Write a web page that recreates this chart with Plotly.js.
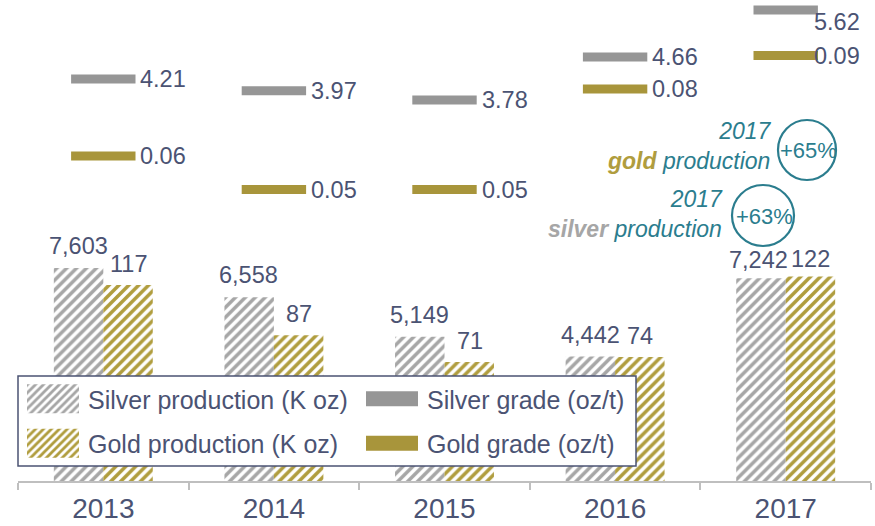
<!DOCTYPE html>
<html><head><meta charset="utf-8">
<script src="https://cdn.plot.ly/plotly-3.0.1.min.js"></script>
<style>html,body{margin:0;padding:0;background:#fff}#chart{width:875px;height:526px}</style>
</head><body><div id="chart"></div>
<script>
const years = ['2013', '2014', '2015', '2016', '2017'];
const silverProduction = [7603, 6558, 5149, 4442, 7242];
const goldProduction = [117, 87, 71, 74, 122];
const silverGrade = [4.21, 3.97, 3.78, 4.66, 5.62];
const goldGrade = [0.06, 0.05, 0.05, 0.08, 0.09];
const seriesNames = ['Silver production (K oz)', 'Gold production (K oz)', 'Silver grade (oz/t)', 'Gold grade (oz/t)'];

const TXT = '#4b5373';
const TEAL = '#2b7d8e';
const SILVER = '#a6a6a6';
const GOLD = '#b09d3e';
const SILVER_G = '#969696';
const GOLD_G = '#a8953b';
const FONT = "'Liberation Sans', Arial, sans-serif";

const L = 18, T = 0, W = 853, H = 481;
const px = v => (v - L) / W;
const py = v => (T + H - v) / H;

const traces = [
  {type: 'bar', x: years, y: silverProduction, yaxis: 'y', name: seriesNames[0],
   width: 0.29, offset: -0.29, legend: 'legend', legendgroup: 'a',
   marker: {color: 'white', line: {width: 0},
            pattern: {shape: '/', fgcolor: SILVER, bgcolor: 'white', size: 7, solidity: 0.5}},
   hoverinfo: 'x+y'},
  {type: 'bar', x: years, y: goldProduction, yaxis: 'y2', name: seriesNames[1],
   width: 0.29, offset: 0, legend: 'legend', legendgroup: 'b',
   marker: {color: 'white', line: {width: 0},
            pattern: {shape: '/', fgcolor: GOLD, bgcolor: 'white', size: 7, solidity: 0.5}},
   hoverinfo: 'x+y'},
  {type: 'scatter', mode: 'markers', x: years, y: silverGrade, yaxis: 'y3', name: seriesNames[2],
   legend: 'legend2', legendgroup: 'c',
   marker: {symbol: 'line-ew', size: 46, line: {width: 9, color: SILVER_G}}},
  {type: 'scatter', mode: 'markers', x: years, y: goldGrade, yaxis: 'y4', name: seriesNames[3],
   legend: 'legend2', legendgroup: 'd',
   marker: {symbol: 'line-ew', size: 46, line: {width: 9, color: GOLD_G}}}
];

const annotations = [];
const last = years.length - 1;
const LBL = {size: 23.5, color: TXT};
years.forEach((yr, i) => {
  annotations.push({x: i, y: silverProduction[i], xref: 'x', yref: 'y', text: silverProduction[i].toLocaleString('en-US'),
    showarrow: false, xshift: i === last ? -27 : -25, yshift: i === last ? 18 : 22, yanchor: 'middle', font: LBL});
  annotations.push({x: i, y: goldProduction[i], xref: 'x', yref: 'y2', text: String(goldProduction[i]),
    showarrow: false, xshift: 25, yshift: i === last ? 18 : 21, yanchor: 'middle', font: LBL});
  annotations.push({x: i, y: silverGrade[i], xref: 'x', yref: 'y3', text: silverGrade[i].toFixed(2),
    showarrow: false, xanchor: 'left', yanchor: 'middle', xshift: i === last ? 26 : 35, yshift: i === last ? -12 : 0,
    font: LBL});
  annotations.push({x: i, y: goldGrade[i], xref: 'x', yref: 'y4', text: goldGrade[i].toFixed(2),
    showarrow: false, xanchor: 'left', yanchor: 'middle', xshift: i === last ? 26 : 35,
    font: LBL});
});

const calloutFont = {size: 23, color: TEAL, style: 'italic'};
annotations.push(
  {xref: 'paper', yref: 'paper', x: px(774), y: py(146), xanchor: 'right', yanchor: 'middle', align: 'right', showarrow: false,
   text: years[last] + "<br><span style='color:" + GOLD + "'><b>gold</b></span> production", font: calloutFont},
  {xref: 'paper', yref: 'paper', x: px(808), y: py(151), xanchor: 'center', yanchor: 'middle', showarrow: false,
   text: '+65%', font: {size: 22, color: TEAL}},
  {xref: 'paper', yref: 'paper', x: px(725), y: py(214), xanchor: 'right', yanchor: 'middle', align: 'right', showarrow: false,
   text: years[last] + "<br><span style='color:" + SILVER + "'><b>silver</b></span> production", font: calloutFont},
  {xref: 'paper', yref: 'paper', x: px(764), y: py(216), xanchor: 'center', yanchor: 'middle', showarrow: false,
   text: '+63%', font: {size: 22, color: TEAL}}
);

const shapes = [
  {type: 'circle', xref: 'paper', yref: 'paper', x0: px(778), x1: px(836), y0: py(180), y1: py(120),
   line: {color: TEAL, width: 2.2}},
  {type: 'circle', xref: 'paper', yref: 'paper', x0: px(732), x1: px(794), y0: py(246), y1: py(185),
   line: {color: TEAL, width: 2.2}},
  {type: 'rect', xref: 'paper', yref: 'paper', x0: px(18), x1: px(636), y0: py(466), y1: py(376),
   fillcolor: 'white', line: {color: TXT, width: 1.5}, layer: 'above'}
];

const legendCommon = {orientation: 'v', bgcolor: 'rgba(0,0,0,0)', borderwidth: 0, itemwidth: 60,
  tracegroupgap: 9, font: {size: 25, color: TXT, family: FONT}, yanchor: 'top', xanchor: 'left', itemclick: false};

const layout = {
  width: 875, height: 526,
  margin: {l: L, r: 875 - L - W, t: T, b: 526 - T - H, pad: 0},
  paper_bgcolor: 'white', plot_bgcolor: 'white',
  font: {family: FONT, color: TXT},
  showlegend: true,
  barmode: 'overlay',
  xaxis: {type: 'category', range: [-0.5, 4.5], tickson: 'boundaries', ticks: 'outside', ticklen: 7,
          tickcolor: '#bfbfbf', tickwidth: 2, showline: true, linecolor: '#bfbfbf', linewidth: 2,
          showgrid: false, zeroline: false, tickfont: {size: 28, color: TXT}, ticklabelstandoff: 1, fixedrange: true},
  yaxis: {range: [0, 17171], visible: false, fixedrange: true},
  yaxis2: {range: [0, 287.1], overlaying: 'y', visible: false, fixedrange: true},
  yaxis3: {range: [-4.01, 5.826], overlaying: 'y', visible: false, fixedrange: true},
  yaxis4: {range: [-0.037, 0.10657], overlaying: 'y', visible: false, fixedrange: true},
  legend: Object.assign({}, legendCommon, {x: 0, y: py(376)}),
  legend2: Object.assign({}, legendCommon, {x: px(357), y: py(376)}),
  annotations: annotations,
  shapes: shapes
};

Plotly.newPlot('chart', traces, layout, {displayModeBar: false, staticPlot: true}).then(gd => {
  document.querySelectorAll('.infolayer .traces').forEach(g => {
    const d = g.__data__;
    if (!d || !d[0] || !d[0].trace) return;
    const tr = d[0].trace;
    g.querySelectorAll('.legendpoints path').forEach(p => {
      if (tr.type === 'bar') {
        p.setAttribute('d', 'M26,14.5H-26V-14.5H26Z');
      } else {
        p.setAttribute('d', 'M26,0H-26');
        p.style.strokeWidth = '15px';
      }
    });
  });
});
</script></body></html>
